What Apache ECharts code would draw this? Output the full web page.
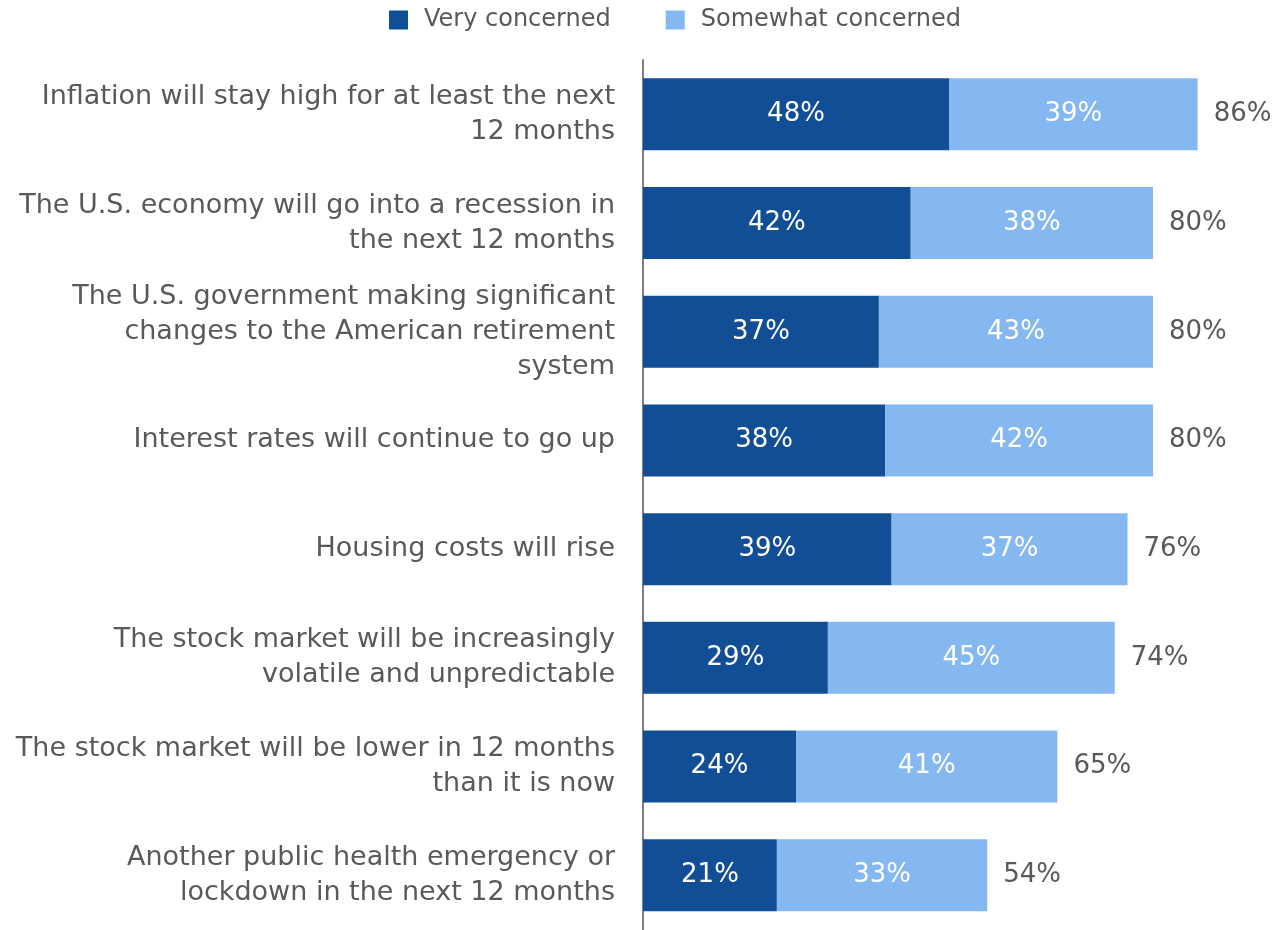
<!DOCTYPE html>
<html>
<head>
<meta charset="utf-8">
<script src="https://cdn.jsdelivr.net/npm/echarts@6/dist/echarts.min.js"></script>
<style>
html,body{margin:0;padding:0;background:#fff;}
#chart{width:1273px;height:930px;}
</style>
</head>
<body>
<div id="chart"></div>
<script>
const categories = [
  "Inflation will stay high for at least the next\n12 months",
  "The U.S. economy will go into a recession in\nthe next 12 months",
  "The U.S. government making significant\nchanges to the American retirement\nsystem",
  "Interest rates will continue to go up",
  "Housing costs will rise",
  "The stock market will be increasingly\nvolatile and unpredictable",
  "The stock market will be lower in 12 months\nthan it is now",
  "Another public health emergency or\nlockdown in the next 12 months"
];
const veryConcerned = [48, 42, 37, 38, 39, 29, 24, 21];
const somewhatConcerned = [39, 38, 43, 42, 37, 45, 41, 33];
const totals = [86, 80, 80, 80, 76, 74, 65, 54];
const seriesNames = ["Very concerned", "Somewhat concerned"];

const FONT = "'DejaVu Sans', sans-serif";
const chart = echarts.init(document.getElementById('chart'), null, {renderer: 'canvas'});
chart.setOption({
  animation: false,
  textStyle: {fontFamily: FONT},
  legend: {
    top: 8,
    left: 389,
    padding: 0,
    itemWidth: 19,
    itemHeight: 19,
    itemGap: 55,
    icon: 'rect',
    textStyle: {fontSize: 24, color: '#595959', fontFamily: FONT, padding: [0, 0, 0, 11]},
    data: seriesNames
  },
  grid: {
    left: 643,
    top: 60,
    width: 637.5,
    height: 869.6,
    containLabel: false,
    outerBoundsMode: 'none'
  },
  xAxis: {
    type: 'value',
    min: 0,
    max: 100,
    show: false
  },
  yAxis: {
    type: 'category',
    inverse: true,
    data: categories,
    axisLine: {show: true, lineStyle: {color: '#7f7f7f', width: 2}},
    axisTick: {show: false},
    axisLabel: {
      margin: 28,
      fontSize: 27,
      lineHeight: 35,
      color: '#595959',
      align: 'right',
      fontFamily: FONT
    }
  },
  series: [
    {
      name: seriesNames[0],
      type: 'bar',
      stack: 'total',
      barWidth: 72,
      data: veryConcerned,
      itemStyle: {color: '#124E96'},
      label: {
        show: true,
        position: 'inside',
        color: '#ffffff',
        fontSize: 26,
        fontFamily: FONT,
        formatter: p => p.value + '%'
      }
    },
    {
      name: seriesNames[1],
      type: 'bar',
      stack: 'total',
      barWidth: 72,
      data: somewhatConcerned,
      itemStyle: {color: '#85B7F0'},
      label: {
        show: true,
        position: 'inside',
        color: '#ffffff',
        fontSize: 26,
        fontFamily: FONT,
        formatter: p => p.value + '%'
      }
    },
    {
      name: 'Total',
      type: 'bar',
      stack: 'total',
      barWidth: 72,
      data: totals.map(() => 0),
      itemStyle: {color: 'transparent'},
      silent: true,
      label: {
        show: true,
        position: 'right',
        distance: 16,
        color: '#595959',
        fontSize: 26,
        fontFamily: FONT,
        formatter: p => totals[p.dataIndex] + '%'
      }
    }
  ]
});
</script>
</body>
</html>
